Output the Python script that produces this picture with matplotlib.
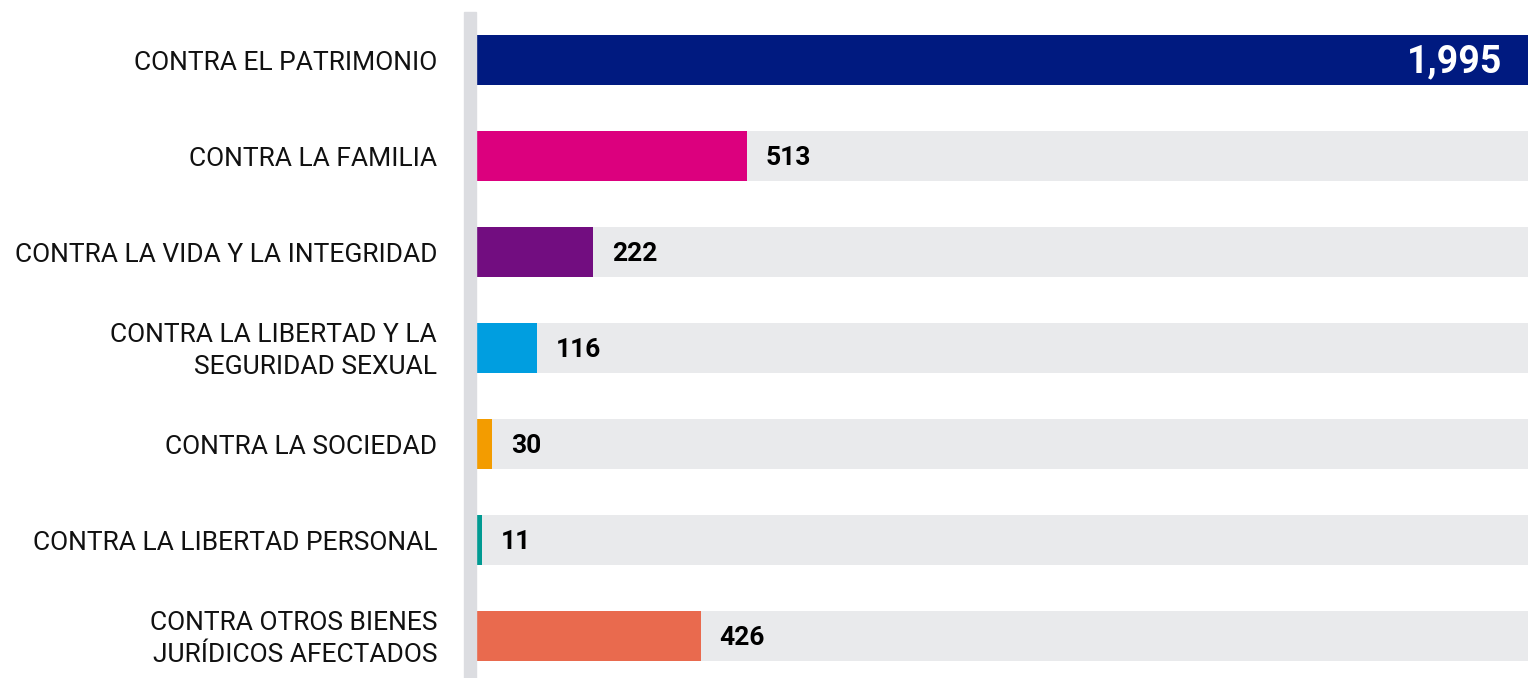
import matplotlib
matplotlib.use("Agg")
import matplotlib.pyplot as plt
from matplotlib.patches import Rectangle

categorias = [
    "CONTRA EL PATRIMONIO",
    "CONTRA LA FAMILIA",
    "CONTRA LA VIDA Y LA INTEGRIDAD",
    "CONTRA LA LIBERTAD Y LA\nSEGURIDAD SEXUAL",
    "CONTRA LA SOCIEDAD",
    "CONTRA LA LIBERTAD PERSONAL",
    "CONTRA OTROS BIENES\nJURÍDICOS AFECTADOS",
]
valores = [1995, 513, 222, 116, 30, 11, 426]
colores = ["#001a80", "#dc007e", "#720d80", "#009ee0", "#f39c00", "#009a92", "#e96a4e"]

plt.rcParams['font.family'] = ['Roboto', 'DejaVu Sans']

fig = plt.figure(figsize=(15.28, 6.78), dpi=100)
W, H = 1528, 678
ax = fig.add_axes([476 / W, 0, 1 - 476 / W, 666 / H])

maximo = max(valores)
pos = list(range(len(valores)))

# fondo gris de cada barra
ax.barh(pos, [maximo] * len(pos), height=0.52, color="#e9eaec", zorder=1)
ax.barh(pos, valores, height=0.52, color=colores, zorder=2)

ax.set_xlim(0, maximo)
ax.set_ylim(6.4375, -0.5)
ax.axis("off")

px = maximo / 1052  # un pixel en unidades de datos
for i, (cat, v) in enumerate(zip(categorias, valores)):
    ax.text(-39 * px, i + 0.03, cat, ha="right", va="center", fontsize=19,
            color="#111111", linespacing=1.4)
    if v == maximo:
        ax.text(v - 26 * px, i + 0.02, f"{v:,}", ha="right", va="center",
                fontsize=27, fontweight="bold", color="white")
    else:
        ax.text(v + 19 * px, i + 0.02, f"{v:,}", ha="left", va="center",
                fontsize=19, fontweight="bold", color="black")

# linea vertical gris a la izquierda
fig.patches.append(Rectangle((464 / W, 0), 12 / W, 666 / H, transform=fig.transFigure,
                             color="#dcdde1", zorder=0))

fig.savefig("out.png", dpi=100)
